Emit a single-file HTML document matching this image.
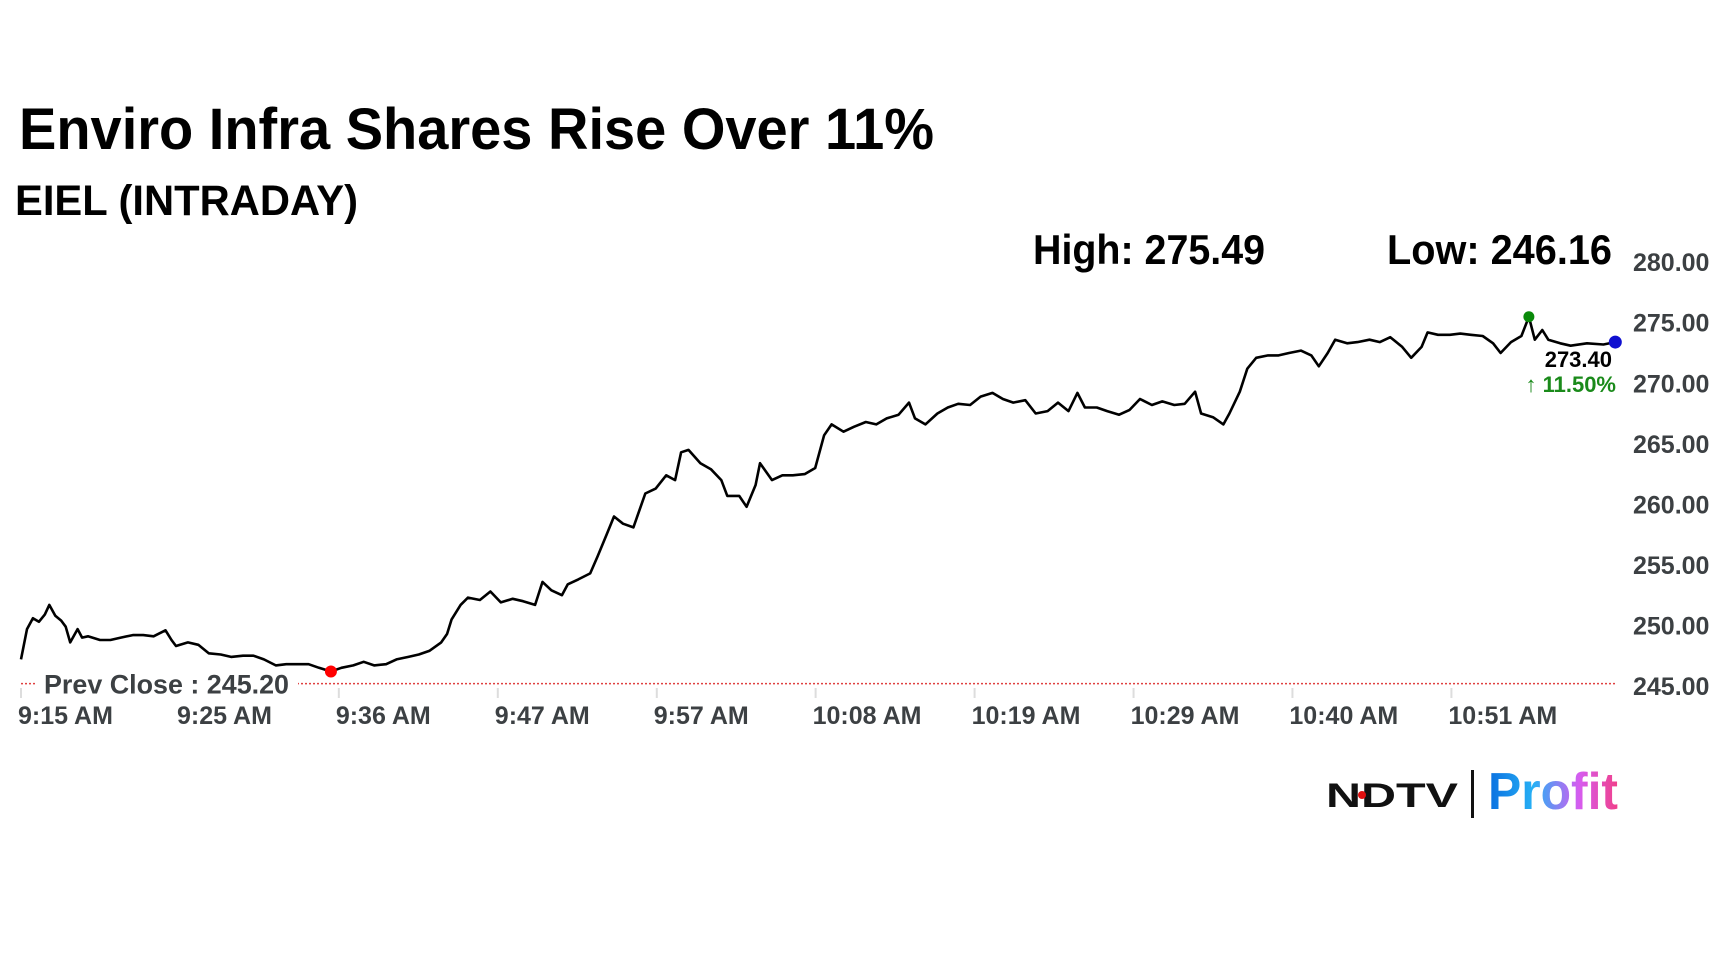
<!DOCTYPE html>
<html><head><meta charset="utf-8"><style>
html,body{margin:0;padding:0;background:#fff;}
svg{display:block;font-family:"Liberation Sans",Arial,sans-serif;}
</style></head><body>
<svg id="chart" width="1728" height="972" viewBox="0 0 1728 972" xmlns="http://www.w3.org/2000/svg">
<defs>
<linearGradient id="pg" x1="0" x2="1" y1="0" y2="0"><stop offset="0" stop-color="#0a6fe0"/><stop offset="0.35" stop-color="#27b0f5"/><stop offset="0.7" stop-color="#d65cf0"/><stop offset="1" stop-color="#f0408a"/></linearGradient>
</defs>
<text x="19" y="149" font-size="58" font-weight="bold" fill="#000" textLength="915" lengthAdjust="spacingAndGlyphs">Enviro Infra Shares Rise Over 11%</text>
<text x="15" y="215" font-size="43" font-weight="bold" fill="#000" textLength="343" lengthAdjust="spacingAndGlyphs">EIEL (INTRADAY)</text>
<text x="1033" y="264" font-size="42" font-weight="bold" fill="#000" textLength="232" lengthAdjust="spacingAndGlyphs">High: 275.49</text>
<text x="1387" y="264" font-size="42" font-weight="bold" fill="#000" textLength="225" lengthAdjust="spacingAndGlyphs">Low: 246.16</text>
<g id="yaxis"></g>
<g id="xaxis"></g>
<g id="prev"></g>
<g id="series"></g>
<g>
<text x="1326" y="807" font-size="34" font-weight="900" fill="#111" textLength="132" lengthAdjust="spacingAndGlyphs" font-family="Liberation Sans, sans-serif">NDTV</text>
<circle cx="1362" cy="795" r="4" fill="#e01010"/>
<rect x="1471" y="770" width="3" height="48" fill="#111"/>
<text x="1488" y="809" font-size="52" font-weight="bold" fill="url(#pg)" textLength="130" lengthAdjust="spacingAndGlyphs">Profit</text>
</g>
</svg>
<script>
const minutes = [0,0.4,0.8,1.2,1.6,1.9,2.3,2.7,3.0,3.3,3.8,4.1,4.5,5.3,6.0,6.7,7.5,8.2,8.9,9.7,10.1,10.4,11.2,11.9,12.6,13.4,14.1,14.9,15.6,16.3,17.1,17.8,18.6,19.3,20.0,20.8,21.5,22.3,23.0,23.7,24.5,25.2,26.0,26.7,27.4,28.2,28.6,28.9,29.5,30.0,30.8,31.5,32.2,33.0,33.7,34.5,35.0,35.6,36.3,36.7,37.4,38.2,38.7,39.3,39.8,40.4,41.1,41.9,42.6,43.3,43.9,44.3,44.8,45.6,46.3,47.0,47.4,48.2,48.7,49.3,49.6,50.4,51.1,51.8,52.6,53.3,53.9,54.4,55.2,55.9,56.7,57.4,58.1,58.9,59.6,60.0,60.7,61.5,62.2,62.9,63.7,64.4,65.2,65.9,66.6,67.4,68.1,68.9,69.6,70.3,70.9,71.4,72.2,72.9,73.7,74.4,75.1,75.9,76.6,77.4,78.1,78.8,79.2,80.0,80.7,81.1,81.8,82.3,82.9,83.7,84.4,85.1,85.9,86.6,87.1,87.7,88.2,89.0,89.7,90.5,91.2,91.9,92.7,93.3,94.0,94.4,95.1,95.9,96.6,97.3,98.1,98.8,99.3,100.0,100.7,101.2,101.6,102.1,102.5,103.3,104.0,105.1,106.2,107.0];
const prices = [247.2,249.7,250.6,250.3,250.9,251.7,250.8,250.4,249.9,248.6,249.7,249.0,249.1,248.8,248.8,249.0,249.2,249.2,249.1,249.6,248.8,248.3,248.6,248.4,247.7,247.6,247.4,247.5,247.5,247.2,246.7,246.8,246.8,246.8,246.5,246.2,246.5,246.7,247.0,246.7,246.8,247.2,247.4,247.6,247.9,248.6,249.3,250.5,251.7,252.3,252.1,252.8,251.9,252.2,252.0,251.7,253.6,252.9,252.5,253.4,253.8,254.3,255.7,257.5,259.0,258.4,258.1,260.9,261.3,262.4,262.0,264.3,264.5,263.4,262.9,262.0,260.7,260.7,259.8,261.6,263.4,262.0,262.4,262.4,262.5,263.0,265.7,266.6,266.0,266.4,266.8,266.6,267.1,267.4,268.4,267.1,266.6,267.5,268.0,268.3,268.2,268.9,269.2,268.7,268.4,268.6,267.5,267.7,268.4,267.7,269.2,268.0,268.0,267.7,267.4,267.8,268.7,268.2,268.5,268.2,268.3,269.3,267.5,267.2,266.6,267.5,269.3,271.2,272.1,272.3,272.3,272.5,272.7,272.3,271.4,272.5,273.6,273.3,273.4,273.6,273.4,273.8,273.0,272.1,273.0,274.2,274.0,274.0,274.1,274.0,273.9,273.3,272.5,273.4,273.9,275.49,273.6,274.4,273.6,273.3,273.1,273.3,273.2,273.4];
const yTicks = [245,250,255,260,265,270,275,280];
const xTickMinutes = [0,10.67,21.33,32,42.67,53.33,64,74.67,85.33,96];
const xTickLabels = ["9:15 AM","9:25 AM","9:36 AM","9:47 AM","9:57 AM","10:08 AM","10:19 AM","10:29 AM","10:40 AM","10:51 AM"];
const prevClose = 245.2;
const changePct = "11.50%";

const NS="http://www.w3.org/2000/svg";
const X0=21, PXM=14.9, Y0=686, PXP=12.11;
const xs=m=>X0+m*PXM, ys=p=>Y0-(p-245)*PXP;
function mk(tag,attrs,parent,text){const e=document.createElementNS(NS,tag);for(const k in attrs)e.setAttribute(k,attrs[k]);if(text!==undefined)e.textContent=text;parent.appendChild(e);return e;}
const yg=document.getElementById('yaxis'), xg=document.getElementById('xaxis'), pg=document.getElementById('prev'), sg=document.getElementById('series');
yTicks.forEach(v=>{const t=mk('text',{x:1633,y:ys(v)+9,'font-size':25,'font-weight':'bold',fill:'#3c4043'},yg,v.toFixed(2));

});
xTickMinutes.forEach((m,i)=>{const l=mk('line',{x1:xs(m),x2:xs(m),y1:688,y2:698,stroke:'#ddd','stroke-width':2},xg);


const t=mk('text',{x:xs(m)-3,y:724,'font-size':25,'font-weight':'bold',fill:'#3c4043'},xg,xTickLabels[i]);

});
const pl=mk('line',{x1:X0,x2:1615,y1:ys(prevClose),y2:ys(prevClose),stroke:'#e04040','stroke-width':1.5,'stroke-dasharray':'2,2'},pg);


const pb=mk('rect',{x:36,y:ys(prevClose)-15,width:262,height:30,fill:'#fff'},pg);


const pt=mk('text',{x:44,y:ys(prevClose)+10,'font-size':27,'font-weight':'bold',fill:'#3c4043',textLength:245,lengthAdjust:'spacingAndGlyphs'},pg,'Prev Close : '+prevClose.toFixed(2));


const d=prices.map((p,i)=>(i?'L':'M')+xs(minutes[i]).toFixed(1)+','+ys(p).toFixed(1)).join('');
const path=mk('path',{d:d,fill:'none',stroke:'#000','stroke-width':2.6,'stroke-linejoin':'round'},sg);


let hi=0,lo=0;prices.forEach((p,i)=>{if(p>prices[hi])hi=i;if(p<prices[lo])lo=i;});
const last=prices.length-1;
const lb=mk('rect',{x:1540,y:348,width:78,height:52,fill:'#fff'},sg);


const lt=mk('text',{x:1612,y:367,'font-size':22,'font-weight':'bold',fill:'#000','text-anchor':'end'},sg,prices[last].toFixed(2));


const ct=mk('text',{x:1616,y:392,'font-size':22,'font-weight':'bold',fill:'#1a8a1a','text-anchor':'end'},sg,'\u2191 '+changePct);


const hd=mk('circle',{cx:xs(minutes[hi]),cy:ys(prices[hi]),r:5.5,fill:'#0a8a0a'},sg);


const ld=mk('circle',{cx:xs(minutes[lo]),cy:ys(prices[lo]),r:6,fill:'#f00'},sg);


const bd=mk('circle',{cx:xs(minutes[last]),cy:ys(prices[last]),r:6.5,fill:'#1010d0'},sg);


</script>
</body></html>
